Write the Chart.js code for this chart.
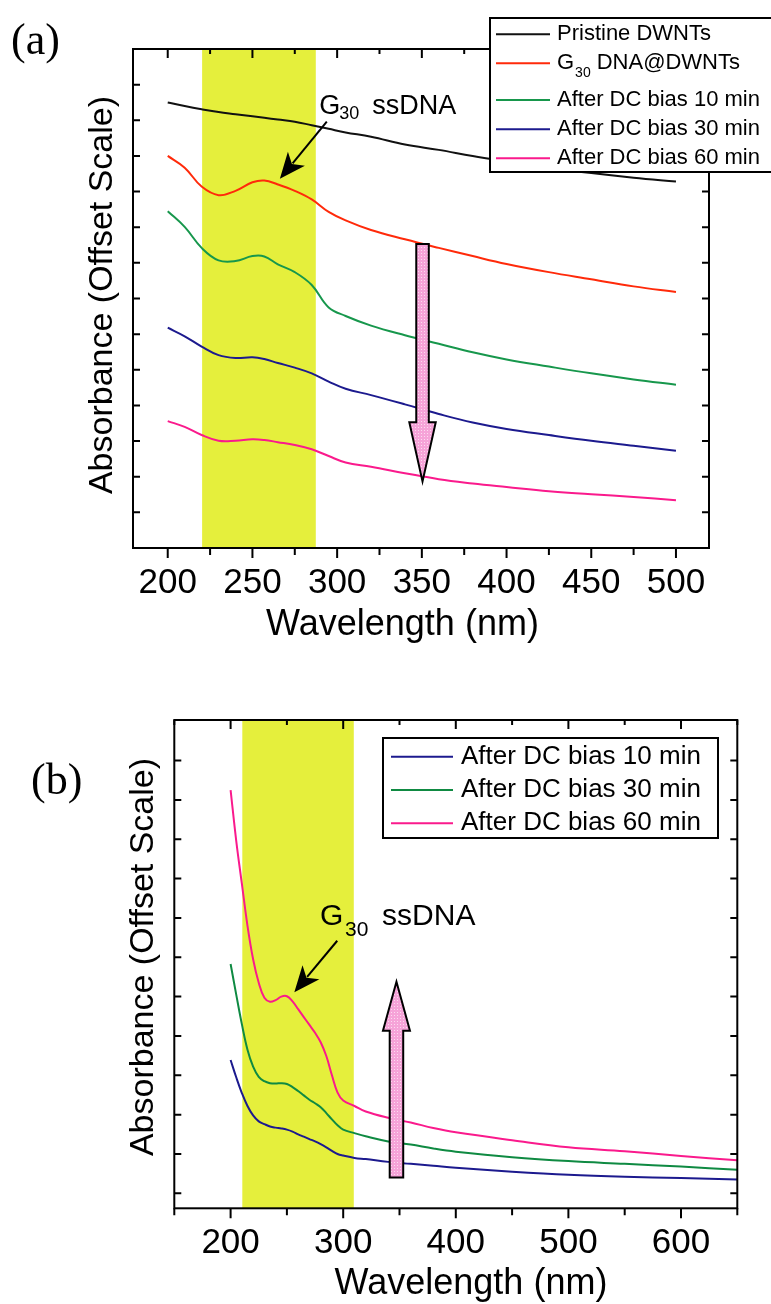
<!DOCTYPE html>
<html>
<head>
<meta charset="utf-8">
<title>Absorbance spectra</title>
<script src="https://cdn.jsdelivr.net/npm/chart.js@4.4.1/dist/chart.umd.min.js"></script>
<style>
  html, body { margin: 0; padding: 0; background: #fff; }
  .panel { position: absolute; left: 0; width: 771px; }
  #panelA { top: 0; height: 660px; }
  #panelB { top: 660px; height: 644px; }
</style>
</head>
<body>
<div class="panel" id="panelA"><canvas id="chartA"></canvas></div>
<div class="panel" id="panelB"><canvas id="chartB"></canvas></div>
<script>
// ---- Panel (a) data (offset absorbance, arbitrary units) ----
const wavelengthA = [200, 210, 220, 230, 240, 250, 257, 265, 275, 285, 295, 305, 320, 340, 360, 380, 400, 425, 450, 475, 500];
const pristineA = [12.50, 12.40, 12.31, 12.23, 12.17, 12.11, 12.07, 12.02, 11.96, 11.86, 11.76, 11.66, 11.54, 11.32, 11.17, 11.00, 10.85, 10.67, 10.52, 10.39, 10.28];
const g30DnaA   = [11.00, 10.67, 10.14, 9.90, 10.02, 10.26, 10.31, 10.20, 10.02, 9.78, 9.43, 9.19, 8.92, 8.66, 8.42, 8.19, 7.97, 7.74, 7.54, 7.34, 7.18];
const bias10A   = [9.45, 9.01, 8.42, 8.07, 8.05, 8.19, 8.18, 7.96, 7.74, 7.38, 6.75, 6.51, 6.24, 5.97, 5.73, 5.49, 5.29, 5.09, 4.90, 4.73, 4.58];
const bias30A   = [6.18, 5.94, 5.65, 5.41, 5.33, 5.35, 5.30, 5.19, 5.06, 4.90, 4.67, 4.47, 4.29, 4.03, 3.76, 3.52, 3.34, 3.17, 3.01, 2.87, 2.73];
const bias60A   = [3.56, 3.40, 3.17, 3.01, 3.01, 3.05, 3.03, 2.97, 2.89, 2.77, 2.58, 2.40, 2.28, 2.10, 1.93, 1.81, 1.71, 1.59, 1.51, 1.43, 1.34];
const namesA  = ['Pristine DWNTs', 'G30 DNA@DWNTs', 'After DC bias 10 min', 'After DC bias 30 min', 'After DC bias 60 min'];
const colorsA = ['#111111', '#ff2a0a', '#17974c', '#1c1a8e', '#fa1a8c'];
const xTicksA = [200, 250, 300, 350, 400, 450, 500];
const xMinorA = [225, 275, 325, 375, 425, 475];
const yTicksA = [1, 2, 3, 4, 5, 6, 7, 8, 9, 10, 11, 12, 13];
const bandA = [220.3, 287.4];

// ---- Panel (b) data ----
const wavelengthB = [200, 205, 210, 215, 220, 225, 230, 235, 240, 245, 250, 255, 260, 265, 270, 275, 280, 285, 290, 295, 300, 310, 320, 340, 360, 380, 400, 450, 500, 550, 600, 650];
const bias10B = [3.39, 2.95, 2.55, 2.22, 1.98, 1.83, 1.76, 1.70, 1.67, 1.65, 1.62, 1.57, 1.50, 1.44, 1.38, 1.32, 1.25, 1.17, 1.08, 1.00, 0.96, 0.90, 0.87, 0.80, 0.75, 0.70, 0.65, 0.55, 0.47, 0.42, 0.39, 0.35];
const bias30B = [5.83, 5.05, 4.30, 3.65, 3.22, 2.96, 2.85, 2.80, 2.79, 2.80, 2.78, 2.70, 2.60, 2.49, 2.38, 2.29, 2.19, 2.04, 1.88, 1.73, 1.62, 1.53, 1.45, 1.32, 1.24, 1.14, 1.06, 0.92, 0.82, 0.75, 0.68, 0.60];
const bias60B = [10.25, 8.96, 7.87, 6.80, 5.95, 5.35, 4.97, 4.87, 4.91, 5.00, 5.01, 4.88, 4.68, 4.48, 4.28, 4.08, 3.84, 3.49, 3.00, 2.56, 2.36, 2.22, 2.08, 1.92, 1.80, 1.66, 1.55, 1.35, 1.17, 1.07, 0.95, 0.84];
const namesB  = ['After DC bias 10 min', 'After DC bias 30 min', 'After DC bias 60 min'];
const colorsB = ['#1c1a8e', '#0f8a42', '#fa1a8c'];
const xTicksB = [200, 300, 400, 500, 600];
const xMinorB = [150, 250, 350, 450, 550, 650];
const yTicksB = [0, 1, 2, 3, 4, 5, 6, 7, 8, 9, 10, 11];
const bandB = [210.4, 309.4];

const SANS = '"Liberation Sans", Arial, Helvetica, sans-serif';
const SERIF = '"Liberation Serif", "Times New Roman", serif';
const BAND_COLOR = '#e5ef3c';

// dotted pink fill for the big arrows
function pinkPattern(ctx) {
    const c = document.createElement('canvas');
    c.width = 3; c.height = 3;
    const p = c.getContext('2d');
    p.fillStyle = '#f6a3d8';
    p.fillRect(0, 0, 3, 3);
    p.fillStyle = '#fcdcf1';
    p.fillRect(1, 1, 1, 1);
    return ctx.createPattern(c, 'repeat');
}

// "G30 ..." -> G with subscript 30
function drawLabel(ctx, text, x, y, size, subGap) {
    ctx.textAlign = 'left';
    if (text.startsWith('G30')) {
        ctx.font = size + 'px ' + SANS;
        ctx.fillText('G', x, y);
        x += ctx.measureText('G').width + 1;
        ctx.font = Math.round(size * 0.62) + 'px ' + SANS;
        ctx.fillText('30', x, y + size * 0.45);
        x += ctx.measureText('30').width + subGap;
        ctx.font = size + 'px ' + SANS;
        ctx.fillText(text.slice(3).trim(), x, y);
    } else {
        ctx.font = size + 'px ' + SANS;
        ctx.fillText(text, x, y);
    }
}

const decor = {
    id: 'decor',
    beforeDatasetsDraw(chart, args, o) {
        const {ctx, chartArea: a, scales: {x}} = chart;
        const x0 = x.getPixelForValue(o.band[0]);
        const x1 = x.getPixelForValue(o.band[1]);
        ctx.save();
        ctx.fillStyle = BAND_COLOR;
        ctx.fillRect(x0, a.top, x1 - x0, a.bottom - a.top);
        ctx.restore();
    },
    afterDatasetsDraw(chart, args, o) {
        const {ctx, chartArea: a, scales: {x, y}} = chart;
        const X = v => x.getPixelForValue(v);
        const Y = v => y.getPixelForValue(v);
        ctx.save();

        // frame + ticks (inward on top/left/right, outward on bottom)
        ctx.strokeStyle = '#000';
        ctx.lineWidth = 2;
        ctx.strokeRect(a.left, a.top, a.right - a.left, a.bottom - a.top);
        ctx.beginPath();
        o.xMajor.forEach(v => {
            ctx.moveTo(X(v), a.top); ctx.lineTo(X(v), a.top + 9);
            ctx.moveTo(X(v), a.bottom); ctx.lineTo(X(v), a.bottom + 10);
        });
        o.xMinor.forEach(v => {
            ctx.moveTo(X(v), a.top); ctx.lineTo(X(v), a.top + 5);
            ctx.moveTo(X(v), a.bottom); ctx.lineTo(X(v), a.bottom + 7);
        });
        o.yTicks.forEach(v => {
            ctx.moveTo(a.left, Y(v)); ctx.lineTo(a.left + 7, Y(v));
            ctx.moveTo(a.right, Y(v)); ctx.lineTo(a.right - 7, Y(v));
        });
        ctx.stroke();

        // big block arrow
        const b = o.block;
        const pts = [[b.x - b.shaft, b.tail], [b.x + b.shaft, b.tail], [b.x + b.shaft, b.base],
                     [b.x + b.head, b.base], [b.x, b.tip], [b.x - b.head, b.base], [b.x - b.shaft, b.base]];
        ctx.beginPath();
        pts.forEach(([px, py], i) => i ? ctx.lineTo(X(px), Y(py)) : ctx.moveTo(X(px), Y(py)));
        ctx.closePath();
        ctx.fillStyle = pinkPattern(ctx);
        ctx.fill();
        ctx.lineWidth = 2;
        ctx.stroke();

        // G30 ssDNA note with arrow
        const n = o.note;
        ctx.fillStyle = '#000';
        ctx.textBaseline = 'alphabetic';
        ctx.font = n.size + 'px ' + SANS;
        const lx = X(n.at[0]), ly = Y(n.at[1]);
        ctx.fillText('G', lx, ly);
        ctx.font = n.subSize + 'px ' + SANS;
        ctx.fillText('30', lx + n.subDx, ly + n.subDy);
        ctx.font = n.size + 'px ' + SANS;
        ctx.fillText('ssDNA', lx + n.restDx, ly);

        const x0 = X(n.from[0]), y0 = Y(n.from[1]);
        const x1 = X(n.to[0]), y1 = Y(n.to[1]);
        const ang = Math.atan2(y1 - y0, x1 - x0);
        const hl = 26, hw = 11;
        const bx = x1 - hl * Math.cos(ang), by = y1 - hl * Math.sin(ang);
        ctx.beginPath();
        ctx.moveTo(x0, y0); ctx.lineTo(bx + 6 * Math.cos(ang), by + 6 * Math.sin(ang));
        ctx.lineWidth = 2;
        ctx.stroke();
        ctx.beginPath();
        ctx.moveTo(x1, y1);
        ctx.lineTo(bx + hw * Math.sin(ang), by - hw * Math.cos(ang));
        ctx.lineTo(bx + 7 * Math.cos(ang), by + 7 * Math.sin(ang));
        ctx.lineTo(bx - hw * Math.sin(ang), by + hw * Math.cos(ang));
        ctx.closePath();
        ctx.fill();
        ctx.restore();
    },
    afterDraw(chart, args, o) {
        const {ctx} = chart;
        ctx.save();
        ctx.fillStyle = '#000';

        // legend box
        const L = o.legend;
        ctx.fillStyle = '#fff';
        ctx.fillRect(L.box[0], L.box[1], L.box[2] - L.box[0], L.box[3] - L.box[1]);
        ctx.strokeStyle = '#000';
        ctx.lineWidth = 2;
        ctx.strokeRect(L.box[0], L.box[1], L.box[2] - L.box[0], L.box[3] - L.box[1]);
        chart.data.datasets.forEach((ds, i) => {
            const ry = L.rows[i];
            ctx.strokeStyle = ds.borderColor;
            ctx.lineWidth = 2;
            ctx.beginPath();
            ctx.moveTo(L.lineX[0], ry); ctx.lineTo(L.lineX[1], ry);
            ctx.stroke();
            ctx.fillStyle = '#000';
            ctx.textBaseline = 'middle';
            drawLabel(ctx, ds.label, L.textX, ry, L.size, 6);
        });

        // axis titles
        ctx.fillStyle = '#000';
        ctx.textBaseline = 'alphabetic';
        ctx.textAlign = 'center';
        ctx.font = o.xTitle.size + 'px ' + SANS;
        ctx.fillText(o.xTitle.text, o.xTitle.x, o.xTitle.y);
        ctx.save();
        ctx.translate(o.yTitle.x, o.yTitle.y);
        ctx.rotate(-Math.PI / 2);
        ctx.font = o.yTitle.size + 'px ' + SANS;
        ctx.fillText(o.yTitle.text, 0, 0);
        ctx.restore();

        // panel letter
        ctx.textAlign = 'left';
        ctx.textBaseline = 'middle';
        ctx.font = o.panel.size + 'px ' + SERIF;
        ctx.fillText(o.panel.text, o.panel.x, o.panel.y);
        ctx.restore();
    }
};

function lineSet(label, xs, ys, color) {
    return {
        label: label,
        data: xs.map((x, i) => ({x: x, y: ys[i]})),
        borderColor: color,
        borderWidth: 2,
        pointRadius: 0,
        tension: 0.4,
        fill: false
    };
}

function xScale(min, max, ticks, height) {
    return {
        type: 'linear',
        min: min,
        max: max,
        afterBuildTicks: s => { s.ticks = ticks.map(v => ({value: v})); },
        afterFit: s => { s.height = height; },
        grid: {display: false, drawTicks: false},
        border: {display: false},
        ticks: {
            autoSkip: false,
            maxRotation: 0,
            padding: 14,
            color: '#000',
            font: {family: SANS, size: 35},
            callback: v => String(v)
        }
    };
}

// Panel (a)
new Chart(document.getElementById('chartA'), {
    type: 'line',
    data: {
        datasets: [pristineA, g30DnaA, bias10A, bias30A, bias60A].map((s, i) => lineSet(namesA[i], wavelengthA, s, colorsA[i]))
    },
    options: {
        responsive: true,
        maintainAspectRatio: false,
        animation: false,
        layout: {padding: {left: 133, top: 49, right: 62, bottom: 0}},
        scales: {
            x: xScale(179.5, 519.5, xTicksA, 112),
            y: {type: 'linear', min: 0, max: 14, display: false}
        },
        plugins: {
            legend: {display: false},
            tooltip: {enabled: false},
            decor: {
                band: bandA,
                xMajor: xTicksA,
                xMinor: xMinorA,
                yTicks: yTicksA,
                block: {x: 350.4, shaft: 3.7, head: 7.8, tail: 8.53, base: 3.53, tip: 1.87},
                note: {at: [289.5, 12.19], size: 27, subSize: 18, subDx: 20, subDy: 5, restDx: 53,
                       from: [293.9, 11.96], to: [266.2, 10.36]},
                legend: {box: [490, 18, 782, 172], rows: [34.3, 63.3, 100, 129.3, 158.3],
                         lineX: [496, 550], textX: 557, size: 22},
                xTitle: {text: 'Wavelength (nm)', x: 402.5, y: 635, size: 36},
                yTitle: {text: 'Absorbance (Offset Scale)', x: 112, y: 295, size: 34},
                panel: {text: '(a)', x: 11, y: 42.5, size: 44}
            }
        }
    },
    plugins: [decor]
});

// Panel (b)
new Chart(document.getElementById('chartB'), {
    type: 'line',
    data: {
        datasets: [bias10B, bias30B, bias60B].map((s, i) => lineSet(namesB[i], wavelengthB, s, colorsB[i]))
    },
    options: {
        responsive: true,
        maintainAspectRatio: false,
        animation: false,
        layout: {padding: {left: 174.3, top: 60, right: 33.7, bottom: 0}},
        scales: {
            x: xScale(150, 650, xTicksB, 95.7),
            y: {type: 'linear', min: -0.38, max: 12.03, display: false}
        },
        plugins: {
            legend: {display: false},
            tooltip: {enabled: false},
            decor: {
                band: bandB,
                xMajor: xTicksB,
                xMinor: xMinorB,
                yTicks: yTicksB,
                block: {x: 347.3, shaft: 6, head: 12, tail: 0.40, base: 4.13, tip: 5.38},
                note: {at: [279.5, 6.82], size: 30, subSize: 21, subDx: 25, subDy: 11, restDx: 62,
                       from: [294.7, 6.42], to: [256.6, 5.11]},
                legend: {box: [383, 78, 718, 178], rows: [96.7, 130, 163.3],
                         lineX: [391, 453], textX: 461, size: 26},
                xTitle: {text: 'Wavelength (nm)', x: 471, y: 634, size: 36},
                yTitle: {text: 'Absorbance (Offset Scale)', x: 153, y: 297, size: 34},
                panel: {text: '(b)', x: 31, y: 122, size: 44}
            }
        }
    },
    plugins: [decor]
});
</script>
</body>
</html>
